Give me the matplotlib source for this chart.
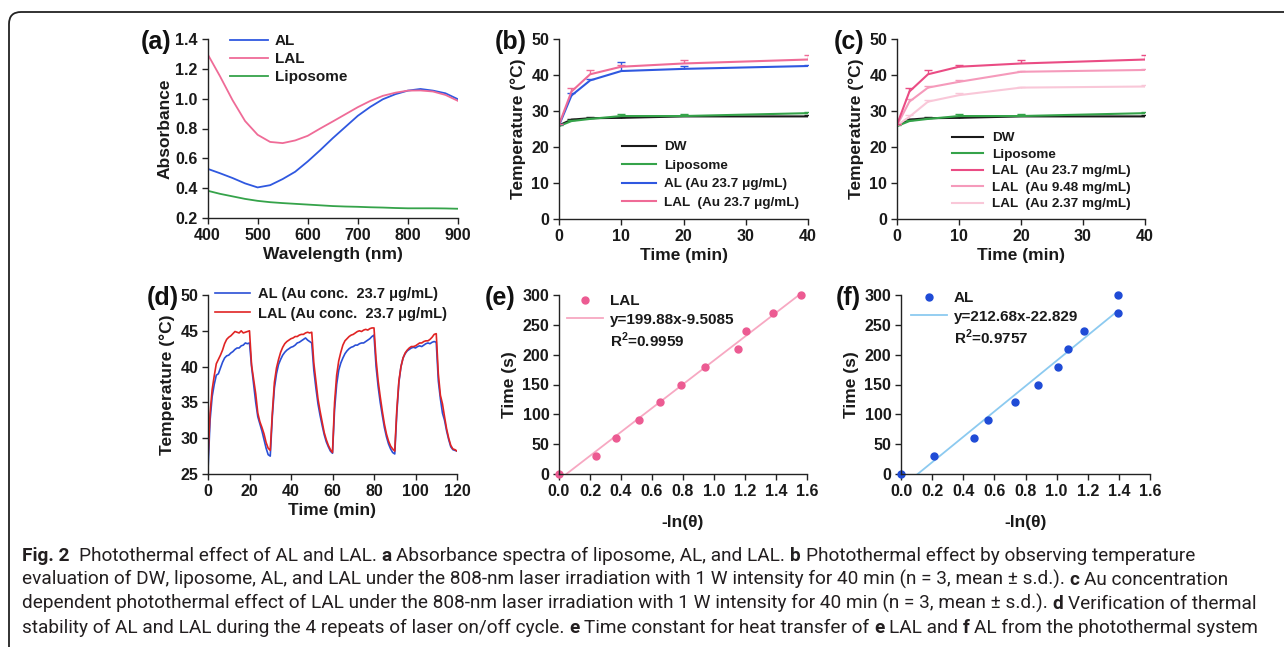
import numpy as np
import matplotlib
matplotlib.use("Agg")
import matplotlib.pyplot as plt
from matplotlib.patches import FancyBboxPatch
from matplotlib.lines import Line2D
from matplotlib import font_manager

# ---------------- data ----------------
# (a) absorbance spectra
wavelength = [400, 425, 450, 475, 500, 525, 550, 575, 600, 625, 650, 675, 700, 725, 750, 775, 800, 825, 850, 875, 900]
abs_AL = [0.530, 0.500, 0.468, 0.432, 0.405, 0.420, 0.461, 0.510, 0.579, 0.655, 0.735, 0.810, 0.885, 0.945, 0.996, 1.030, 1.054, 1.065, 1.054, 1.036, 0.996]
abs_LAL = [1.300, 1.150, 0.990, 0.850, 0.758, 0.710, 0.702, 0.720, 0.751, 0.800, 0.847, 0.895, 0.943, 0.985, 1.019, 1.040, 1.054, 1.055, 1.048, 1.025, 0.985]
abs_lipo = [0.383, 0.362, 0.345, 0.328, 0.315, 0.306, 0.300, 0.295, 0.290, 0.285, 0.280, 0.277, 0.275, 0.272, 0.270, 0.267, 0.265, 0.265, 0.265, 0.264, 0.262]

# (b)/(c) temperature vs time
time_bc = [0, 2, 5, 10, 20, 40]
T_DW = [26.0, 27.6, 28.0, 28.1, 28.5, 28.5]
T_DW_err = [0.3, 0.3, 0.3, 0.3, 0.3, 0.3]
T_lipo = [25.8, 27.2, 27.8, 28.6, 28.6, 29.4]
T_lipo_err = [0.3, 0.3, 0.3, 0.5, 0.6, 0.3]
T_AL = [26.0, 34.3, 38.5, 41.1, 41.7, 42.5]
T_AL_err = [0.3, 0.8, 0.5, 2.4, 0.9, 0.4]
T_LAL = [26.2, 35.4, 40.2, 42.3, 43.2, 44.3]
T_LAL_err = [0.3, 1.1, 1.3, 0.5, 1.1, 1.2]
T_LAL948 = [26.0, 32.6, 36.5, 38.1, 40.9, 41.4]
T_LAL948_err = [0.3, 0.6, 0.5, 0.4, 0.3, 0.3]
T_LAL237 = [26.0, 28.4, 32.6, 34.4, 36.5, 36.8]
T_LAL237_err = [0.3, 0.4, 0.5, 0.6, 0.3, 0.3]

# (d) on/off cycles
time_d = list(range(0, 121))
cyc_LAL = [27.0, 33.5, 36.8, 38.7, 40.4, 41.0, 41.6, 42.3, 43.2, 43.8, 44.1, 44.3, 44.6, 44.9, 44.8, 44.7, 45.0, 44.7, 44.8, 44.9, 45.0,
           40.2, 38.2, 36.2, 33.5, 32.3, 31.5, 30.6, 29.4, 28.6, 28.3,
           33.5, 37.8, 39.8, 41.0, 42.0, 42.7, 43.2, 43.5, 43.7, 43.9, 44.0, 44.2, 44.2, 44.4, 44.5, 44.5, 44.7, 44.8, 44.7, 44.8,
           40.5, 38.0, 35.5, 33.8, 32.3, 30.8, 29.8, 29.0, 28.4, 28.0,
           35.0, 38.8, 40.8, 42.0, 43.0, 43.6, 43.9, 44.2, 44.4, 44.5, 44.7, 44.9, 45.0, 44.9, 45.1, 45.2, 45.1, 45.3, 45.4, 45.4,
           41.0, 38.0, 35.8, 33.8, 32.0, 30.6, 29.6, 28.9, 28.5, 28.2,
           34.0, 38.0, 40.0, 41.2, 41.9, 42.3, 42.6, 42.8, 42.8, 42.9, 43.1, 43.3, 43.3, 43.5, 43.6, 43.6, 43.8, 44.1, 44.5, 44.6,
           39.0, 36.0, 34.8, 33.0, 31.3, 30.0, 29.0, 28.5, 28.4, 28.2]
cyc_AL = [25.5, 32.5, 35.8, 37.5, 38.8, 39.0, 39.8, 40.6, 41.2, 41.5, 41.6, 41.9, 42.1, 42.4, 42.6, 42.6, 42.9, 43.0, 43.3, 43.2, 43.3,
          40.0, 37.5, 35.0, 33.0, 32.0, 31.0, 29.8, 28.6, 27.7, 27.5,
          33.0, 37.0, 39.0, 40.3, 41.0, 41.6, 42.0, 42.3, 42.5, 42.7, 42.8, 43.0, 43.3, 43.4, 43.6, 43.8, 44.0, 43.7, 43.5, 43.3,
          39.5, 37.0, 34.8, 33.2, 31.8, 30.5, 29.5, 28.8, 28.2, 27.9,
          34.0, 37.5, 39.5, 40.5, 41.2, 41.8, 42.2, 42.5, 42.7, 42.8, 43.0, 43.0, 43.2, 43.3, 43.3, 43.5, 43.7, 43.9, 44.2, 44.4,
          40.0, 37.2, 35.0, 33.2, 31.5, 30.2, 29.2, 28.5, 28.0, 27.8,
          33.5, 37.8, 40.0, 41.2, 41.8, 42.2, 42.4, 42.6, 42.7, 42.6, 42.8, 42.9, 42.8, 43.0, 43.2, 43.3, 43.2, 43.4, 43.5, 43.4,
          38.0, 35.5, 33.5, 32.5, 31.0, 29.8, 28.8, 28.4, 28.3, 28.2]

# (e) LAL time constant
lnth_LAL = [0.0, 0.237, 0.366, 0.515, 0.652, 0.784, 0.945, 1.158, 1.208, 1.380, 1.561]
t_LAL = [0, 30, 60, 90, 120, 150, 180, 210, 240, 270, 300]
fit_LAL_slope, fit_LAL_icpt = 199.88, -9.5085
fit_LAL_x = [0.048, 1.561]
# (f) AL time constant
lnth_AL = [0.0, 0.210, 0.471, 0.557, 0.735, 0.882, 1.011, 1.073, 1.176, 1.392, 1.392]
t_AL = [0, 30, 60, 90, 120, 150, 180, 210, 240, 270, 300]
fit_AL_slope, fit_AL_icpt = 212.68, -22.829
fit_AL_x = [0.107, 1.392]

# ---------------- style ----------------
W, H = 1284, 647
plt.rcParams['font.family'] = ['Liberation Sans', 'DejaVu Sans']
plt.rcParams['font.weight'] = 'bold'
plt.rcParams['axes.labelweight'] = 'bold'
plt.rcParams['mathtext.fontset'] = 'custom'
plt.rcParams['mathtext.rm'] = 'Liberation Sans:bold'
plt.rcParams['mathtext.bf'] = 'Liberation Sans:bold'
TXT = '#1a1a1a'

fig = plt.figure(figsize=(W / 100, H / 100), dpi=100)
fig.patch.set_facecolor('white')
renderer = fig.canvas.get_renderer()

# frame
frame = FancyBboxPatch((0.09, -1.0), 20, (H - 12) / 100 + 1.0,
                       boxstyle='round,pad=0,rounding_size=0.12',
                       transform=fig.dpi_scale_trans, fill=False,
                       edgecolor='#222222', linewidth=1.3)
fig.add_artist(frame)


def add_ax(l, r, t, b):
    ax = fig.add_axes([l / W, 1 - b / H, (r - l) / W, (b - t) / H])
    for s in ['top', 'right']:
        ax.spines[s].set_visible(False)
    for s in ['left', 'bottom']:
        ax.spines[s].set_linewidth(1.0)
        ax.spines[s].set_color('#222222')
    ax.tick_params(direction='out', length=4, width=1, labelsize=11.5, pad=3,
                   colors='#222222', labelcolor=TXT)
    return ax


def px(x, y):
    return (x / W, 1 - y / H)


def legend(ax, handles, labels, x, y, fs, hl, htp, ls):
    lg = ax.legend(handles, labels, loc='upper left', bbox_to_anchor=px(x, y),
                   bbox_transform=fig.transFigure, frameon=False, borderpad=0,
                   borderaxespad=0, fontsize=fs, handlelength=hl,
                   handletextpad=htp, labelspacing=ls)
    for t in lg.get_texts():
        t.set_color(TXT)
        t.set_fontweight('bold')
    return lg


def panel_label(txt, x, y):
    fig.text(x / W, 1 - y / H, txt, fontsize=18, fontweight='bold',
             ha='center', va='center', color='#111111')


def ebar(ax, x, y, err, color, lw=1.5):
    ax.plot(x, y, color=color, lw=lw)
    eb = ax.errorbar(x, y, yerr=[np.zeros(len(err)), err], fmt='none',
                     ecolor=color, elinewidth=1.0, capsize=3, capthick=1.0)
    for cl in eb[1]:
        if np.allclose(cl.get_ydata(), y):
            cl.set_visible(False)


C_AL = '#2f58e0'
C_LAL = '#ef6b97'
C_LIPO = '#35a34a'
C_DW = '#1a1a1a'

# ---------------- (a) ----------------
axa = add_ax(207.5, 458, 39, 218)
la1, = axa.plot(wavelength, abs_AL, color=C_AL, lw=1.3)
la2, = axa.plot(wavelength, abs_LAL, color=C_LAL, lw=1.3)
la3, = axa.plot(wavelength, abs_lipo, color=C_LIPO, lw=1.3)
axa.set_xlim(400, 900)
axa.set_ylim(0.2, 1.4)
axa.set_xticks(range(400, 901, 100))
axa.set_yticks(np.arange(0.2, 1.41, 0.2))
axa.yaxis.set_major_formatter(matplotlib.ticker.FormatStrFormatter('%.1f'))
axa.set_xlabel('Wavelength (nm)', fontsize=12.5, color=TXT, labelpad=3)
axa.set_ylabel('Absorbance', fontsize=12.5, color=TXT, labelpad=2)
legend(axa, [la1, la2, la3], ['AL', 'LAL', 'Liposome'], 230, 34, 11, 2.5, 0.45, 0.27)
panel_label('(a)', 156, 42)

# ---------------- (b) ----------------
axb = add_ax(559, 808, 39, 219)
ebar(axb, time_bc, T_DW, T_DW_err, C_DW)
ebar(axb, time_bc, T_lipo, T_lipo_err, C_LIPO)
ebar(axb, time_bc, T_AL, T_AL_err, C_AL)
ebar(axb, time_bc, T_LAL, T_LAL_err, C_LAL)
axb.set_xlim(0, 40)
axb.set_ylim(0, 50)
axb.set_xticks(range(0, 41, 10))
axb.set_yticks(range(0, 51, 10))
axb.set_xlabel('Time (min)', fontsize=12.5, color=TXT, labelpad=3)
axb.set_ylabel('Temperature (\u00b0C)', fontsize=12.5, color=TXT, labelpad=4)
hb = [Line2D([], [], color=c, lw=1.5) for c in [C_DW, C_LIPO, C_AL, C_LAL]]
legend(axb, hb, ['DW', 'Liposome', 'AL (Au 23.7 \u03bcg/mL)', 'LAL  (Au 23.7 \u03bcg/mL)'],
       622, 141, 9.7, 2.5, 0.6, 0.45)
panel_label('(b)', 511, 42)

# ---------------- (c) ----------------
C_L1 = '#ea4c84'
C_L2 = '#f59abb'
C_L3 = '#f9c7d8'
axc = add_ax(897, 1145, 39, 219)
ebar(axc, time_bc, T_DW, T_DW_err, C_DW)
ebar(axc, time_bc, T_lipo, T_lipo_err, C_LIPO)
ebar(axc, time_bc, T_LAL237, T_LAL237_err, C_L3)
ebar(axc, time_bc, T_LAL948, T_LAL948_err, C_L2)
ebar(axc, time_bc, T_LAL, T_LAL_err, C_L1)
axc.set_xlim(0, 40)
axc.set_ylim(0, 50)
axc.set_xticks(range(0, 41, 10))
axc.set_yticks(range(0, 51, 10))
axc.set_xlabel('Time (min)', fontsize=12.5, color=TXT, labelpad=3)
axc.set_ylabel('Temperature (\u00b0C)', fontsize=12.5, color=TXT, labelpad=4)
hc = [Line2D([], [], color=c, lw=1.5) for c in [C_DW, C_LIPO, C_L1, C_L2, C_L3]]
legend(axc, hc, ['DW', 'Liposome', 'LAL  (Au 23.7 mg/mL)', 'LAL  (Au 9.48 mg/mL)',
                 'LAL  (Au 2.37 mg/mL)'], 952, 132, 9.7, 2.3, 0.65, 0.3)
panel_label('(c)', 849, 42)

# ---------------- (d) ----------------
axd = add_ax(208, 457, 295, 474)
ld1, = axd.plot(time_d, cyc_AL, color='#2a4fd6', lw=1.2)
ld2, = axd.plot(time_d, cyc_LAL, color='#e02424', lw=1.2)
axd.set_xlim(0, 120)
axd.set_ylim(25, 50)
axd.set_xticks(range(0, 121, 20))
axd.set_yticks(range(25, 51, 5))
axd.set_xlabel('Time (min)', fontsize=12.5, color=TXT, labelpad=3)
axd.set_ylabel('Temperature (\u00b0C)', fontsize=12.5, color=TXT, labelpad=4)
legend(axd, [ld1, ld2], ['AL (Au conc.  23.7 \u03bcg/mL)', 'LAL (Au conc.  23.7 \u03bcg/mL)'],
       215, 287, 10.5, 2.4, 0.55, 0.38)
panel_label('(d)', 163, 298)

# ---------------- (e) ----------------
axe = add_ax(559, 807, 295, 474)
fx = np.array(fit_LAL_x)
le2, = axe.plot(fx, fit_LAL_slope * fx + fit_LAL_icpt, color='#f7a8c2', lw=1.3)
le1, = axe.plot(lnth_LAL, t_LAL, 'o', color='#ec5b92', ms=5, clip_on=False, lw=0)
axe.set_xlim(0, 1.6)
axe.set_ylim(0, 300)
axe.set_xticks(np.arange(0, 1.61, 0.2))
axe.set_yticks(range(0, 301, 50))
axe.xaxis.set_major_formatter(matplotlib.ticker.FormatStrFormatter('%.1f'))
axe.set_xlabel('-ln(\u03b8)', fontsize=12.5, color=TXT, labelpad=12)
axe.set_ylabel('Time (s)', fontsize=12.5, color=TXT, labelpad=4)
blank = Line2D([], [], color='none')
legend(axe, [le1, le2, blank], ['LAL', 'y=199.88x-9.5085', 'R$^{2}$=0.9959'],
       567, 294, 11, 2.35, 0.45, 0.3)
panel_label('(e)', 500, 298)

# ---------------- (f) ----------------
axf = add_ax(901, 1150, 295, 474)
gx = np.array(fit_AL_x)
lf2, = axf.plot(gx, fit_AL_slope * gx + fit_AL_icpt, color='#8ccaf0', lw=1.3)
lf1, = axf.plot(lnth_AL, t_AL, 'o', color='#1f4bd6', ms=5, clip_on=False, lw=0)
axf.set_xlim(0, 1.6)
axf.set_ylim(0, 300)
axf.set_xticks(np.arange(0, 1.61, 0.2))
axf.set_yticks(range(0, 301, 50))
axf.xaxis.set_major_formatter(matplotlib.ticker.FormatStrFormatter('%.1f'))
axf.set_xlabel('-ln(\u03b8)', fontsize=12.5, color=TXT, labelpad=12)
axf.set_ylabel('Time (s)', fontsize=12.5, color=TXT, labelpad=4)
legend(axf, [lf1, lf2, blank], ['AL', 'y=212.68x-22.829', 'R$^{2}$=0.9757'],
       911, 291, 11, 2.35, 0.45, 0.3)
panel_label('(f)', 848, 298)

# ---------------- caption ----------------
names = {f.name for f in font_manager.fontManager.ttflist}
cap_fam = ['Liberation Sans Narrow', 'DejaVu Sans'] if 'Liberation Sans Narrow' in names else ['Roboto', 'DejaVu Sans']

caption_lines = [
    [("Fig. 2", True), ("  Photothermal effect of AL and LAL. ", False), ("a", True),
     (" Absorbance spectra of liposome, AL, and LAL. ", False), ("b", True),
     (" Photothermal effect by observing temperature", False)],
    [("evaluation of DW, liposome, AL, and LAL under the 808-nm laser irradiation with 1 W intensity for 40 min (n = 3, mean \u00b1 s.d.). ", False),
     ("c", True), (" Au concentration", False)],
    [("dependent photothermal effect of LAL under the 808-nm laser irradiation with 1 W intensity for 40 min (n = 3, mean \u00b1 s.d.). ", False),
     ("d", True), (" Verification of thermal", False)],
    [("stability of AL and LAL during the 4 repeats of laser on/off cycle. ", False), ("e", True),
     (" Time constant for heat transfer of ", False), ("e", True), (" LAL and ", False), ("f", True),
     (" AL from the photothermal system", False)],
]
cap_base = [561, 585, 609, 633]


def measure(s, size, bold):
    t = fig.text(0, 0, s, fontsize=size, family=cap_fam,
                 fontweight='bold' if bold else 'normal')
    w = t.get_window_extent(renderer).width
    t.remove()
    return w


def draw_line(segs, y, size, draw=True):
    x = 22.0
    sp = measure('a a', size, False) - measure('aa', size, False)
    for txt, bold in segs:
        lead = len(txt) - len(txt.lstrip(' '))
        trail = len(txt) - len(txt.rstrip(' '))
        core = txt.strip(' ')
        x += lead * sp
        if draw:
            t = fig.text(x / W, 1 - y / H, core, fontsize=size, family=cap_fam,
                         fontweight='bold' if bold else 'normal', va='baseline',
                         color='#231f20')
            w = t.get_window_extent(renderer).width
        else:
            w = measure(core, size, bold)
        x += w + trail * sp
    return x


w0 = draw_line(caption_lines[2], 0, 10, draw=False) - 22
cap_size = 10 * (1262 - 22) / w0
for segs, yb in zip(caption_lines, cap_base):
    draw_line(segs, yb, cap_size)

fig.savefig('out.png', dpi=100)
